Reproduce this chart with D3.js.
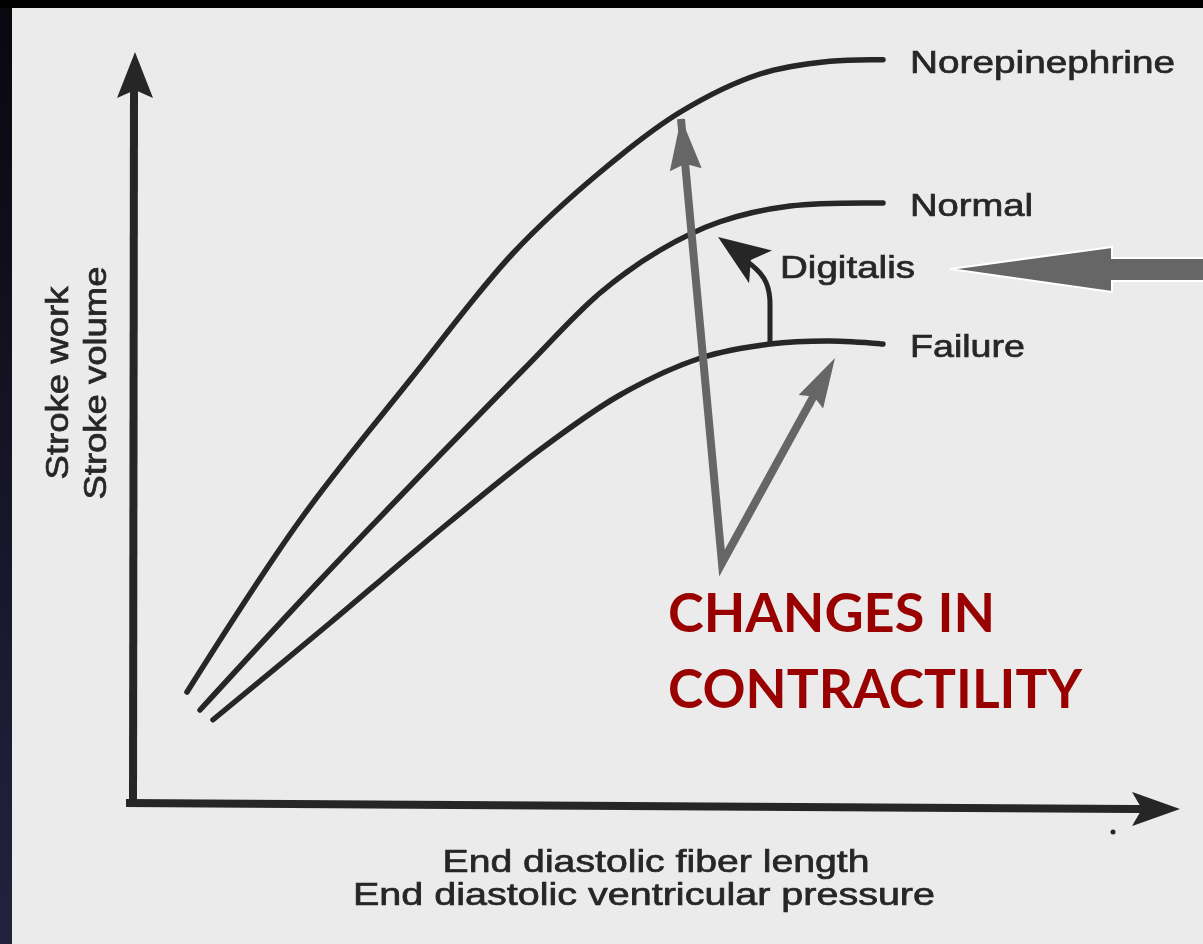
<!DOCTYPE html>
<html>
<head>
<meta charset="utf-8">
<script src="https://cdn.jsdelivr.net/npm/d3@7"></script>
<style>
  html, body { margin: 0; padding: 0; background: #000; overflow: hidden; }
  svg { display: block; }
</style>
</head>
<body>
<svg id="chart"></svg>
<script>
// Frank-Starling curves, arbitrary units (x: fiber length, y: stroke volume)
const curveNames = ["Norepinephrine", "Normal", "Failure"];
const norepinephrineX = [0.53, 1.66, 2.76, 3.79, 4.66, 5.46, 6.26, 6.96, 7.49];
const norepinephrineY = [1.48, 3.77, 5.64, 7.33, 8.41, 9.21, 9.72, 9.89, 9.91];
const normalX = [0.66, 1.86, 3.06, 3.91, 4.66, 5.26, 5.86, 6.56, 7.49];
const normalY = [1.24, 2.97, 4.64, 5.80, 6.80, 7.37, 7.75, 7.96, 8.00];
const failureX = [0.79, 1.96, 3.16, 4.06, 4.86, 5.66, 6.36, 6.96, 7.49];
const failureY = [1.11, 2.40, 3.75, 4.71, 5.44, 5.93, 6.12, 6.16, 6.12];
const xAxisLines = ["End diastolic fiber length", "End diastolic ventricular pressure"];
const yAxisLines = ["Stroke work", "Stroke volume"];
const calloutLines = ["CHANGES IN", "CONTRACTILITY"];

const width = 1203, height = 944;
const svg = d3.select("#chart").attr("width", width).attr("height", height);

const x = d3.scaleLinear().domain([0, 10]).range([134, 1134]);
const y = d3.scaleLinear().domain([0, 10]).range([803, 53]);

// background: dark slide edges and the scanned page
const defs = svg.append("defs");
const grad = defs.append("linearGradient").attr("id", "edge")
    .attr("x1", 0).attr("y1", 0).attr("x2", 0).attr("y2", 1);
grad.append("stop").attr("offset", "0%").attr("stop-color", "#08080f");
grad.append("stop").attr("offset", "100%").attr("stop-color", "#22223f");
defs.append("filter").attr("id", "soft")
    .append("feGaussianBlur").attr("stdDeviation", 0.6);

svg.append("rect").attr("width", width).attr("height", height).attr("fill", "#000");
svg.append("rect").attr("y", 8).attr("width", 12).attr("height", height - 8).attr("fill", "url(#edge)");
svg.append("rect").attr("x", 12).attr("y", 8)
    .attr("width", width - 12).attr("height", height - 8)
    .attr("fill", "#ebebeb");

// arrowhead path: tip point, direction angle, length, half width, notch depth
function arrowHead(tx, ty, angle, len, hw, notch) {
    const c = Math.cos(angle), s = Math.sin(angle);
    const bx = tx - c * len, by = ty - s * len;
    const p = d3.path();
    p.moveTo(tx, ty);
    p.lineTo(bx - s * hw, by + c * hw);
    p.lineTo(tx - c * (len - notch), ty - s * (len - notch));
    p.lineTo(bx + s * hw, by - c * hw);
    p.closePath();
    return p.toString();
}

const ink = "#262626";
const font = "Liberation Sans, Arial, sans-serif";
const scan = svg.append("g").attr("filter", "url(#soft)");

// axes
scan.append("line")
    .attr("x1", x(0) - 1).attr("y1", y(0) + 3)
    .attr("x2", x(0)).attr("y2", y(10) + 30)
    .attr("stroke", ink).attr("stroke-width", 8);
scan.append("path")
    .attr("d", arrowHead(x(0) + 1, y(10) - 1, -Math.PI / 2, 46, 18, 8))
    .attr("fill", ink);
scan.append("line")
    .attr("x1", x(0) - 8).attr("y1", y(0))
    .attr("x2", x(10) + 15).attr("y2", y(0) + 6)
    .attr("stroke", ink).attr("stroke-width", 8);
scan.append("path")
    .attr("d", arrowHead(x(10.46), y(0) + 6, 0, 48, 17, 10))
    .attr("fill", ink);
scan.append("circle").attr("cx", 1113).attr("cy", 832).attr("r", 2.5).attr("fill", ink);

// curves
const series = [
    { name: curveNames[0], xs: norepinephrineX, ys: norepinephrineY },
    { name: curveNames[1], xs: normalX, ys: normalY },
    { name: curveNames[2], xs: failureX, ys: failureY }
];
const line = d3.line()
    .x(d => x(d[0]))
    .y(d => y(d[1]))
    .curve(d3.curveCatmullRom.alpha(0.5));

scan.selectAll("path.curve")
    .data(series)
    .join("path")
    .attr("class", "curve")
    .attr("d", d => line(d3.zip(d.xs, d.ys)))
    .attr("fill", "none")
    .attr("stroke", ink)
    .attr("stroke-width", 5.5)
    .attr("stroke-linecap", "round");

const labelWidths = [265, 123, 115];
scan.selectAll("text.curve-label")
    .data(series)
    .join("text")
    .attr("class", "curve-label")
    .attr("x", d => x(d.xs[d.xs.length - 1]) + 27)
    .attr("y", d => y(d.ys[d.ys.length - 1]) + 13)
    .attr("textLength", (d, i) => labelWidths[i])
    .attr("lengthAdjust", "spacingAndGlyphs")
    .text(d => d.name);

// digitalis arrow from the failure curve up towards normal
const dx = x(6.36), dy = y(6.12);
scan.append("path")
    .attr("d", `M${dx},${dy} L${dx},${dy - 40} C${dx},${dy - 62} ${dx - 8},${dy - 72} ${dx - 25},${dy - 84}`)
    .attr("fill", "none").attr("stroke", ink).attr("stroke-width", 5);
scan.append("path")
    .attr("d", arrowHead(718, 237, Math.atan2(-30.5, -43.5), 52, 20, 12))
    .attr("fill", ink);
scan.append("text")
    .attr("x", 780).attr("y", 278)
    .attr("textLength", 135).attr("lengthAdjust", "spacingAndGlyphs")
    .text("Digitalis");

// axis titles
scan.selectAll("text.xlab")
    .data(xAxisLines)
    .join("text")
    .attr("class", "xlab")
    .attr("x", (d, i) => [656, 644][i])
    .attr("y", (d, i) => 872 + i * 33)
    .attr("text-anchor", "middle")
    .attr("textLength", (d, i) => [427, 582][i])
    .attr("lengthAdjust", "spacingAndGlyphs")
    .text(d => d);

scan.selectAll("text.ylab")
    .data(yAxisLines)
    .join("text")
    .attr("class", "ylab")
    .attr("transform", (d, i) => `translate(${[68, 106][i]},383) rotate(-90)`)
    .attr("text-anchor", "middle")
    .attr("textLength", (d, i) => [193, 233][i])
    .attr("lengthAdjust", "spacingAndGlyphs")
    .text(d => d);

scan.selectAll("text")
    .attr("font-family", font)
    .attr("font-size", 32)
    .attr("fill", ink)
    .attr("stroke", ink)
    .attr("stroke-width", 0.7);

// gray overlay annotations
const gray = "#666666";
const vx = 722, vy = 563;
svg.append("path")
    .attr("d", `M${x(5.47)},${y(9.12)} L${vx},${vy} L${x(6.93)},${y(5.75)}`)
    .attr("fill", "none").attr("stroke", gray)
    .attr("stroke-width", 8).attr("stroke-linejoin", "miter");
svg.append("path")
    .attr("d", arrowHead(681, 118, Math.atan2(-445, -41), 52, 16, 6))
    .attr("fill", gray);
svg.append("path")
    .attr("d", arrowHead(835, 358, Math.atan2(-205, 113), 50, 14, 6))
    .attr("fill", gray);

// big arrow pointing at Digitalis
const bp = d3.path();
bp.moveTo(950, 269);
bp.lineTo(1112, 247);
bp.lineTo(1112, 258);
bp.lineTo(1210, 258);
bp.lineTo(1210, 281);
bp.lineTo(1112, 281);
bp.lineTo(1112, 292);
bp.closePath();
svg.append("path").attr("d", bp.toString())
    .attr("fill", gray).attr("stroke", "#ffffff").attr("stroke-width", 2);

svg.selectAll("text.callout")
    .data(calloutLines)
    .join("text")
    .attr("class", "callout")
    .attr("x", 668)
    .attr("y", (d, i) => 632 + i * 76)
    .attr("textLength", (d, i) => [327, 414][i])
    .attr("lengthAdjust", "spacingAndGlyphs")
    .attr("font-family", "Lato, 'Open Sans', sans-serif")
    .attr("font-weight", "bold")
    .attr("font-size", 54)
    .attr("fill", "#990000")
    .text(d => d);
</script>
</body>
</html>
